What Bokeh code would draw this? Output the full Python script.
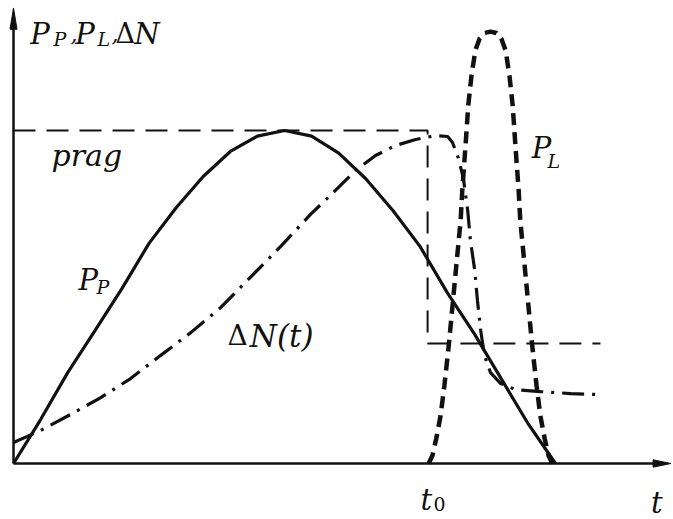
from bokeh.plotting import figure
from bokeh.models import Range1d, Label
from bokeh.embed import file_html
from bokeh.resources import INLINE

# ---- data (time in % of pump pulse length, power in % of threshold "prag") ----
pp_t = [0, 5, 10, 15, 20, 25, 30, 35, 40, 45, 50, 55, 60, 65, 70, 75, 80, 85, 90, 95, 100]
pp_y = [0, 13.2, 27.3, 39.8, 52.5, 66.1, 76.8, 86.2, 93.7, 98.3, 100, 98.3, 93.2, 85.5, 76.0,
        65.2, 51.4, 39.0, 25.4, 11.8, 0]

dn_t = [0, 5.0, 10.5, 16.1, 21.6, 27.1, 32.7, 38.2, 43.7, 49.3, 54.8, 59.4, 63.1, 66.8, 70.5,
        74.2, 77.9, 80.1, 81.0, 82.1, 83.0, 83.8, 84.3, 85.1, 85.6, 86.2, 86.9, 88.0, 89.9,
        92.6, 97.2, 102.8, 107.9]
dn_y = [6.3, 9.9, 14.7, 19.8, 25.5, 32.4, 39.3, 46.8, 55.9, 65.2, 74.8, 82.0, 88.0, 92.5, 95.5,
        97.3, 98.5, 98.2, 96.4, 91.6, 85.6, 76.0, 67.0, 58.0, 48.9, 39.9, 32.4, 27.3, 24.0,
        22.2, 21.6, 21.0, 20.7]

pl_t = [76.6, 77.3, 78.0, 78.8, 79.5, 80.3, 81.0, 81.7, 82.5, 82.8, 83.4, 83.9, 84.5, 85.2,
        86.0, 86.9, 88.0, 89.1, 90.0, 90.8, 91.5, 92.1, 92.6, 93.2, 93.5, 94.3, 95.0, 95.7,
        96.5, 97.2, 98.0, 98.7, 99.4]
pl_y = [0, 2.4, 7.5, 14.4, 23.4, 35.4, 47.4, 59.5, 73.0, 82.0, 95.5, 107.5, 116.5, 124.0,
        127.6, 129.3, 129.7, 129.3, 127.6, 124.0, 116.5, 107.5, 95.5, 82.0, 73.0, 59.5, 47.4,
        35.4, 23.4, 14.4, 7.5, 2.4, 0]

thr_t = [0, 76.4, 76.4, 108.3]
thr_y = [100, 100, 36, 36]

FONT = "DejaVu Serif"
INK = "#111111"

p = figure(width=673, height=519,
           x_range=Range1d(-2.40, 121.77), y_range=Range1d(-16.82, 139.04),
           x_axis_type=None, y_axis_type=None,
           output_backend="svg", toolbar_location=None, min_border=0,
           outline_line_color=None, background_fill_color="white",
           border_fill_color="white")
p.grid.visible = False

# axes with arrow heads
p.line([0, 0], [0, 131], line_color=INK, line_width=2.5)
p.line([0, 118.5], [0, 0], line_color=INK, line_width=2.5)
p.patch([-0.65, 0, 0.65], [130.4, 136.8, 130.4], fill_color=INK, line_color=INK)
p.patch([118.0, 121.3, 118.0], [1.1, 0, -1.1], fill_color=INK, line_color=INK)

# threshold (prag) dashed line
p.line(thr_t, thr_y, line_color=INK, line_width=2, line_dash="22 11")
# population inversion, dash-dot
p.line(dn_t, dn_y, line_color=INK, line_width=3.2, line_dash="22 8 3 8")
# pump power, solid
p.line(pp_t, pp_y, line_color=INK, line_width=3.2)
# laser pulse, bold dashed
p.line(pl_t, pl_y, line_color=INK, line_width=4.5, line_dash="12 7")


def lab(x, y, text, size, style="italic"):
    p.add_layout(Label(x=x, y=y, text=text, text_font=FONT, text_font_style=style,
                       text_font_size=f"{size}px", text_color=INK,
                       text_baseline="alphabetic", text_align="left"))


# y-axis title  P_P, P_L, ΔN
lab(3.1, 129.1, "P", 29)
lab(7.4, 127.6, "P", 19)
lab(10.5, 129.1, ",", 22)
lab(11.4, 129.1, "P", 29)
lab(15.5, 127.6, "L", 19)
lab(18.1, 129.1, ",", 22)
lab(18.8, 129.1, "Δ", 27, "normal")
lab(22.3, 129.1, "N", 29)

lab(7.0, 92.5, "prag", 30)

lab(12.0, 55.0, "P", 29)
lab(15.3, 52.9, "P", 19)

lab(39.5, 38.4, "Δ", 28, "normal")
lab(43.6, 38.4, "N(t)", 31)

lab(95.6, 94.6, "P", 29)
lab(98.5, 90.7, "L", 19)

lab(75.1, -11.1, "t", 29)
lab(77.5, -12.3, "0", 19, "normal")

lab(117.6, -12.0, "t", 29)

open("out.html", "w").write(file_html(p, INLINE))
